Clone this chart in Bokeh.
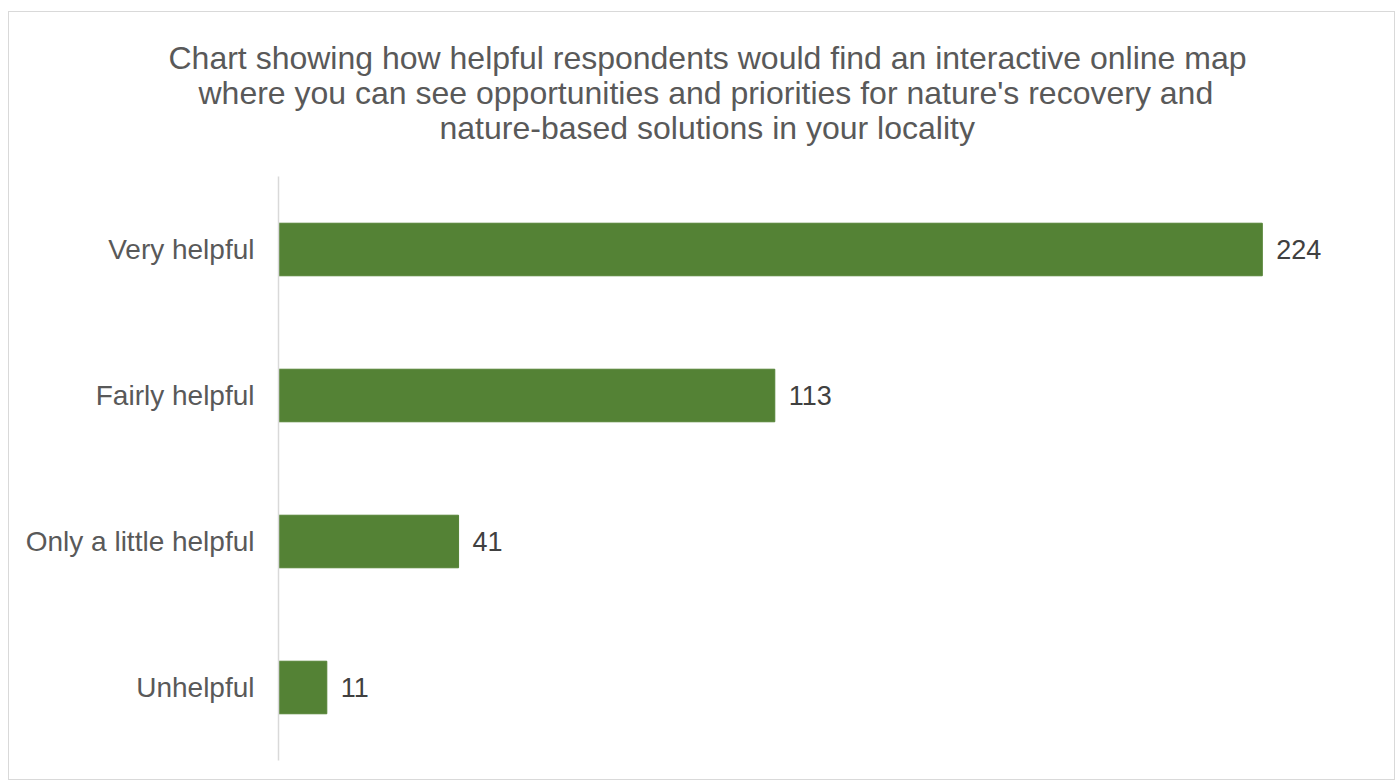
from bokeh.plotting import figure
from bokeh.models import ColumnDataSource, FactorRange, Range1d, LabelSet, Title
from bokeh.core.properties import value
from bokeh.embed import file_html
from bokeh.resources import INLINE

categories = ["Very helpful", "Fairly helpful", "Only a little helpful", "Unhelpful"]
counts = [224, 113, 41, 11]
title_lines = [
    "Chart showing how helpful respondents would find an interactive online map",
    "where you can see opportunities and priorities for nature's recovery and",
    "nature-based solutions in your locality",
]

W, H = 1387, 769
src = ColumnDataSource(dict(cat=categories, val=counts, txt=[str(v) for v in counts]))

p = figure(
    width=W, height=H,
    y_range=FactorRange(factors=list(reversed(categories))),
    x_range=Range1d(0, 250),
    output_backend="svg", toolbar_location=None,
    min_border_left=269, min_border_right=20, min_border_top=164, min_border_bottom=21,
    styles={"border": "1px solid #d9d9d9", "margin-left": "8px", "margin-top": "11px"},
)
p.title = None
p.outline_line_color = None
p.xgrid.visible = False
p.ygrid.visible = False
p.xaxis.visible = False

p.hbar(y="cat", right="val", left=0, height=0.36, source=src, color="#548235")

ax = p.yaxis[0]
ax.axis_line_color = "#d9d9d9"
ax.axis_line_width = 1.5
ax.major_tick_line_color = None
ax.minor_tick_line_color = None
ax.major_label_standoff = 18
ax.major_label_text_font = "Liberation Sans"
ax.major_label_text_font_size = "28px"
ax.major_label_text_color = "#595959"

labels = LabelSet(x="val", y="cat", text="txt", source=src, x_offset=14,
                  text_baseline="middle", text_font=value("Liberation Sans"),
                  text_font_size=value("27px"), text_color=value("#404040"))
p.add_layout(labels)

# spacer between title and plot area
p.add_layout(Title(text=" ", standoff=-6, text_font="Liberation Sans",
                   text_font_size="32px"), "above")

offsets = [-110, -80, 161]
standoffs = [-3, -3, -3]
for i in reversed(range(len(title_lines))):
    p.add_layout(Title(text=title_lines[i], align="left", offset=offsets[i],
                       standoff=standoffs[i], text_font="Liberation Sans",
                       text_font_size="32px", text_color="#595959",
                       text_font_style="normal"), "above")

open("out.html", "w").write(file_html(p, INLINE))
